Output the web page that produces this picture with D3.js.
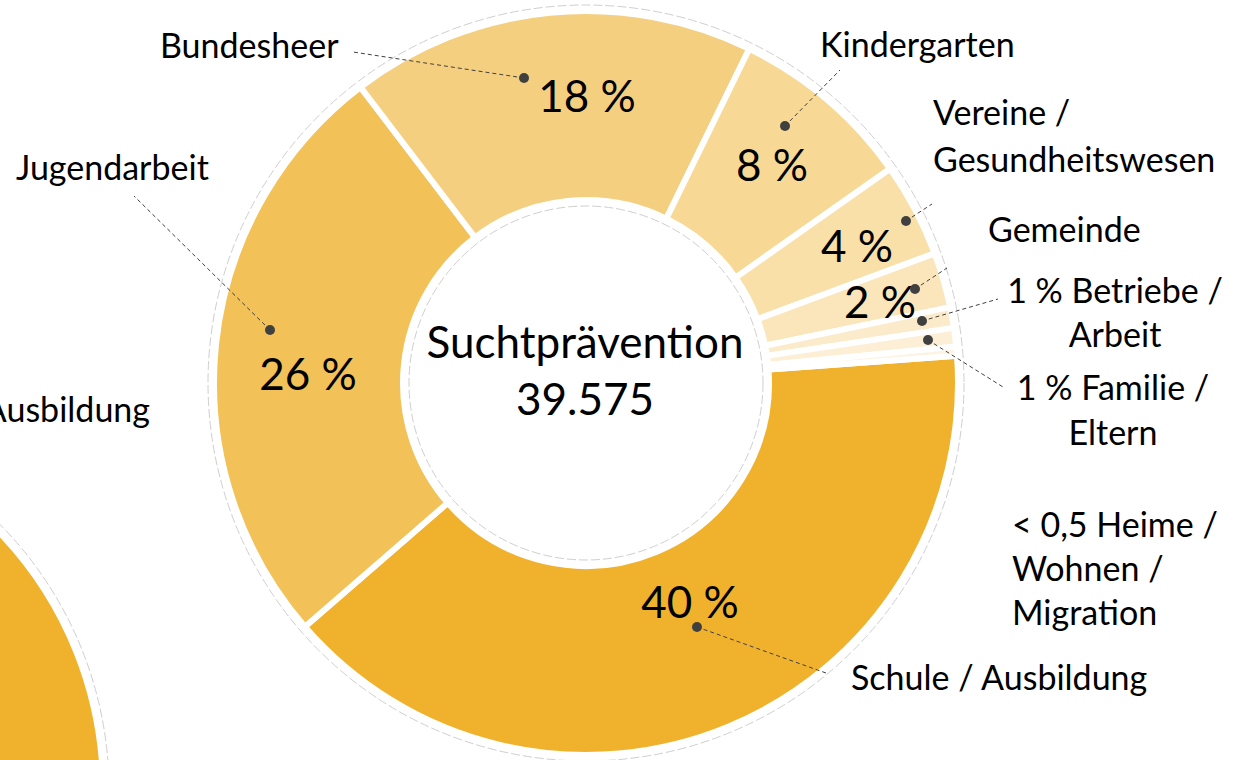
<!DOCTYPE html>
<html>
<head>
<meta charset="utf-8">
<script src="https://cdn.jsdelivr.net/npm/d3@7"></script>
<style>
  html, body { margin: 0; padding: 0; background: #fff; overflow: hidden; }
  svg { display: block; }
  text { font-family: Lato, "Open Sans", sans-serif; fill: #000; }
</style>
</head>
<body>
<svg id="chart" width="1235" height="760"></svg>
<script>
// ---- data ----
const categories = ["Schule / Ausbildung", "Jugendarbeit", "Bundesheer", "Kindergarten",
  "Vereine / Gesundheitswesen", "Gemeinde", "Betriebe / Arbeit", "Familie / Eltern",
  "Heime / Wohnen / Migration"];
const values = [39.8, 26.0, 17.6, 8.0, 4.1, 2.4, 0.9, 0.8, 0.4];
const percentLabels = ["40 %", "26 %", "18 %", "8 %", "4 %", "2 %", "", "", ""];
const categoryLabels = [
  ["Schule / Ausbildung"], ["Jugendarbeit"], ["Bundesheer"], ["Kindergarten"],
  ["Vereine /", "Gesundheitswesen"], ["Gemeinde"], ["1 % Betriebe /", "Arbeit"],
  ["1 % Familie /", "Eltern"], ["< 0,5 Heime /", "Wohnen /", "Migration"]
];
const centerTitle = "Suchtprävention";
const centerTotal = "39.575";
const neighbourLabel = "Ausbildung";
const neighbourValues = [1];

// ---- style / layout ----
const colors = ["#F0B22C", "#F2C157", "#F5CF80", "#F7D995", "#F9E0A9",
                "#FAE6BA", "#FBEBCA", "#FCEFD6", "#FDF3E2"];
const W = 1235, H = 760;
const cx = 586, cy = 383;
const rOuter = 372, rInner = 183;
const startDeg = 85.8;
const labelSize = "34px", bigSize = "44px";

// label layout: [x, y(baseline first line), anchor, lineHeight]
const labelLayout = [
  [851, 690, "start", 0],
  [16, 180, "start", 0],
  [160, 58, "start", 0],
  [820, 57, "start", 0],
  [933, 125, "start", 47],
  [988, 242, "start", 0],
  [1115, 303, "middle", 44],
  [1113, 400, "middle", 45],
  [1012, 537, "start", 44]
];
// percentage text centre positions (baseline)
const pctLayout = [[690, 618], [308, 390], [587, 112], [772, 181], [857, 262], [880, 318], null, null, null];
// leader lines: dot, end
const leaderLayout = [
  [[697, 627], [826, 673]],
  [[270, 330], [134, 196]],
  [[524, 78], [353, 52]],
  [[785, 126], [840, 70]],
  [[906, 221], [932, 204]],
  [[915, 289], [947, 268]],
  [[922, 321], [998, 299]],
  [[928, 340], [1003, 387]],
  null
];

const svg = d3.select("#chart");

// neighbouring (cropped) chart at the left
const nb = svg.append("g").attr("transform", "translate(-269,790)");
const nbPie = d3.pie().sort(null)(neighbourValues);
nb.append("circle").attr("r", 378).attr("fill", "none")
  .attr("stroke", "#cfcfcf").attr("stroke-width", 1).attr("stroke-dasharray", "9,3");
nb.selectAll("path").data(nbPie).join("path")
  .attr("d", d3.arc().innerRadius(rInner).outerRadius(rOuter))
  .attr("fill", colors[0]).attr("stroke", "#fff").attr("stroke-width", 6);
svg.append("text").attr("x", 150).attr("y", 422).attr("text-anchor", "end")
  .style("font-size", labelSize).text(neighbourLabel);

// main donut
const g = svg.append("g").attr("transform", `translate(${cx},${cy})`);
const pie = d3.pie().sort(null).value(d => d)
  .startAngle(startDeg * Math.PI / 180)
  .endAngle(startDeg * Math.PI / 180 + 2 * Math.PI);
const arcs = pie(values);
const arc = d3.arc().innerRadius(rInner).outerRadius(rOuter);

g.append("circle").attr("r", 378).attr("fill", "none")
  .attr("stroke", "#cfcfcf").attr("stroke-width", 1).attr("stroke-dasharray", "9,3");
g.append("circle").attr("r", 177).attr("fill", "none")
  .attr("stroke", "#cfcfcf").attr("stroke-width", 1).attr("stroke-dasharray", "9,3");

g.selectAll("path.slice").data(arcs).join("path")
  .attr("class", "slice")
  .attr("d", arc)
  .attr("fill", (d, i) => colors[i])
  .attr("stroke", "#fff").attr("stroke-width", 6).attr("stroke-linejoin", "miter");

// center text
svg.append("text").attr("x", 585).attr("y", 358).attr("text-anchor", "middle")
  .style("font-size", bigSize).text(centerTitle);
svg.append("text").attr("x", 585).attr("y", 415).attr("text-anchor", "middle")
  .style("font-size", bigSize).text(centerTotal);

// percentage labels
arcs.forEach((d, i) => {
  if (!pctLayout[i] || !percentLabels[i]) return;
  svg.append("text").attr("x", pctLayout[i][0]).attr("y", pctLayout[i][1])
    .attr("text-anchor", "middle").style("font-size", bigSize).text(percentLabels[i]);
});

// leader lines and dots
leaderLayout.forEach((l, i) => {
  if (!l) return;
  svg.append("line").attr("x1", l[0][0]).attr("y1", l[0][1]).attr("x2", l[1][0]).attr("y2", l[1][1])
    .attr("stroke", "#404040").attr("stroke-width", 1).attr("stroke-dasharray", "4,3");
  svg.append("circle").attr("cx", l[0][0]).attr("cy", l[0][1]).attr("r", 5).attr("fill", "#404040");
});

// category labels
categoryLabels.forEach((lines, i) => {
  const [x, y, anchor, lh] = labelLayout[i];
  const t = svg.append("text").attr("x", x).attr("y", y).attr("text-anchor", anchor)
    .style("font-size", labelSize);
  lines.forEach((ln, j) => {
    t.append("tspan").attr("x", x).attr("y", y + j * lh).text(ln);
  });
});
</script>
</body>
</html>
